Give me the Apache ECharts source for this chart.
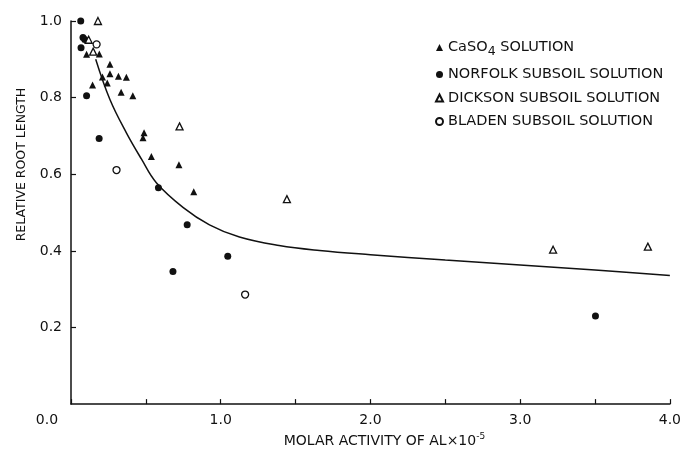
<!DOCTYPE html>
<html><head><meta charset="utf-8">
<script src="https://cdn.jsdelivr.net/npm/echarts@6/dist/echarts.min.js"></script>
<style>html,body{margin:0;padding:0;background:#fff}#c{width:684px;height:453px}</style>
</head><body><div id="c"></div>
<script>
const caso4 = [[0.104,0.913],[0.189,0.914],[0.26,0.887],[0.26,0.862],[0.21,0.854],[0.317,0.856],[0.37,0.853],[0.242,0.838],[0.144,0.833],[0.335,0.814],[0.413,0.805],[0.488,0.708],[0.481,0.695],[0.537,0.646],[0.721,0.625],[0.82,0.554]];
const norfolk = [[0.065,1.0],[0.08,0.957],[0.092,0.952],[0.067,0.93],[0.104,0.805],[0.188,0.693],[0.584,0.565],[0.776,0.468],[1.047,0.386],[0.681,0.346],[3.503,0.23]];
const dickson = [[0.18,1.0],[0.118,0.951],[0.148,0.92],[0.725,0.725],[1.442,0.535],[3.22,0.403],[3.853,0.411]];
const bladen = [[0.171,0.939],[0.304,0.611],[1.163,0.286]];
const curve = [[0.165,0.90],[0.26,0.795],[0.37,0.708],[0.47,0.64],[0.57,0.578],[0.75,0.513],[0.925,0.468],[1.125,0.436],[1.39,0.414],[1.66,0.401],[2.0,0.39],[2.5,0.376],[3.0,0.363],[3.5,0.35],[4.0,0.336]];
const seriesNames = ['CaSO4 SOLUTION','NORFOLK SUBSOIL SOLUTION','DICKSON SUBSOIL SOLUTION','BLADEN SUBSOIL SOLUTION'];
const xTitle = 'MOLAR ACTIVITY OF AL\u00d710';
const xTitleExp = '-5';
const yTitle = 'RELATIVE ROOT LENGTH';

const FONT = 'DejaVu Sans';
const chart = echarts.init(document.getElementById('c'), null, {renderer:'canvas'});
chart.setOption({
  animation:false,
  backgroundColor:'#fff',
  textStyle:{fontFamily:FONT,color:'#111'},
  grid:{left:71,right:12,top:21,bottom:47,containLabel:false},
  legend:{
    orient:'vertical', left:430, top:35, itemGap:8.5, itemWidth:7, itemHeight:7,
    textStyle:{fontFamily:FONT,fontSize:14.5,color:'#111',
      rich:{sub:{fontSize:12.5,verticalAlign:'bottom',padding:[9,0,0,0],fontFamily:FONT,color:'#111'}}},
    formatter:function(n){ if(n===seriesNames[0]) return 'CaSO{sub|4} SOLUTION'; return n; },
    data:[
      {name:seriesNames[0],icon:'triangle',itemStyle:{color:'#111',opacity:1}},
      {name:seriesNames[1],icon:'circle',itemStyle:{color:'#111',opacity:1}},
      {name:seriesNames[2],icon:'emptyTriangle',itemStyle:{color:'#111',borderColor:'#111',borderWidth:1.2,opacity:1}},
      {name:seriesNames[3],icon:'emptyCircle',itemStyle:{color:'#111',borderColor:'#111',borderWidth:1.2,opacity:1}}
    ]
  },
  xAxis:{
    type:'value', min:0, max:4, interval:0.5,
    axisLine:{lineStyle:{color:'#111',width:1.5}},
    axisTick:{inside:true,length:5,lineStyle:{color:'#111',width:1.2}},
    splitLine:{show:false},
    axisLabel:{fontFamily:FONT,fontSize:14,color:'#111',margin:9,
      formatter:function(v){ if(v===0) return '{o|0.0}'; return Math.abs(v%1)<1e-9 ? v.toFixed(1) : ''; },
      rich:{o:{fontFamily:FONT,fontSize:14,color:'#111',padding:[0,48,0,0]}}},
    name: xTitle + '{sup|' + xTitleExp + '}',
    nameLocation:'middle', nameGap:27,
    nameTextStyle:{fontFamily:FONT,fontSize:14,color:'#111',padding:[0,0,0,28],
      rich:{sup:{fontSize:9,verticalAlign:'top',padding:[0,0,9,0],fontFamily:FONT,color:'#111'}}}
  },
  yAxis:{
    type:'value', min:0, max:1, interval:0.2,
    axisLine:{show:true,lineStyle:{color:'#111',width:1.5}},
    axisTick:{show:true,inside:true,length:5,lineStyle:{color:'#111',width:1.2}},
    splitLine:{show:false},
    axisLabel:{fontFamily:FONT,fontSize:14,color:'#111',margin:9,showMinLabel:false,
      formatter:function(v){ return v.toFixed(1); }},
    name:yTitle, nameLocation:'middle', nameRotate:90, nameGap:43,
    nameTextStyle:{fontFamily:FONT,fontSize:12.5,color:'#111',padding:[0,0,0,96]}
  },
  series:[
    {name:'curve',type:'line',data:curve,smooth:0.4,symbol:'none',lineStyle:{color:'#111',width:1.5},z:1},
    {name:seriesNames[0],type:'scatter',data:caso4,symbol:'triangle',symbolSize:7,itemStyle:{color:'#111',opacity:1},z:3},
    {name:seriesNames[1],type:'scatter',data:norfolk,symbol:'circle',symbolSize:7,itemStyle:{color:'#111',opacity:1},z:3},
    {name:seriesNames[2],type:'scatter',data:dickson,symbol:'triangle',symbolSize:7,itemStyle:{color:'#fff',borderColor:'#111',borderWidth:1.3,opacity:1},z:3},
    {name:seriesNames[3],type:'scatter',data:bladen,symbol:'circle',symbolSize:7,itemStyle:{color:'#fff',borderColor:'#111',borderWidth:1.3,opacity:1},z:3}
  ]
});
</script></body></html>
